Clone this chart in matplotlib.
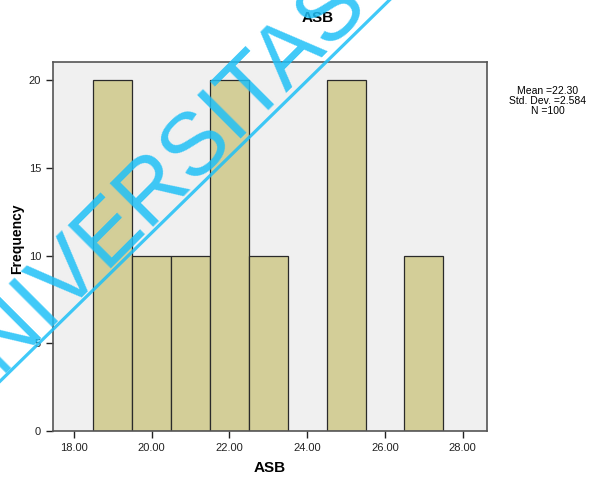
import numpy as np
import matplotlib
matplotlib.use("Agg")
import matplotlib.pyplot as plt
from matplotlib.lines import Line2D

plt.rcParams['font.family'] = ['Liberation Sans', 'DejaVu Sans']

# histogram bins (centres) and counts
bin_centers = [19, 20, 21, 22, 23, 25, 27]
counts = [20, 10, 10, 20, 10, 20, 10]
x_ticks = [18, 20, 22, 24, 26, 28]
y_ticks = [0, 5, 10, 15, 20]
stats_text = "Mean =22.30\nStd. Dev. =2.584\nN =100"

fig = plt.figure(figsize=(6.05, 4.8), dpi=100)
ax = fig.add_axes([0.0876, 0.102, 0.717, 0.769])
ax.set_facecolor('#f0f0f0')

ax.bar(bin_centers, counts, width=1.0, color='#d3ce98', edgecolor='#2a2a2a', linewidth=0.9)

ax.set_xlim(17.46, 28.62)
ax.set_ylim(0, 21.03)
ax.set_xticks(x_ticks)
ax.set_xticklabels([f'{v:.2f}' for v in x_ticks])
ax.set_yticks(y_ticks)
ax.tick_params(axis='both', direction='out', length=5, width=1, labelsize=8, colors='#222222')
for s in ax.spines.values():
    s.set_color('#555555')
    s.set_linewidth(1.2)

ax.set_xlabel('ASB', fontsize=11, fontweight='bold')
ax.xaxis.set_label_coords(0.5, -0.08)
ax.set_ylabel('Frequency', fontsize=10, fontweight='bold')
ax.yaxis.set_label_coords(-0.067, 0.52)
fig.text(0.525, 0.962, 'ASB', ha='center', va='center', fontsize=11, fontweight='bold')

fig.text(0.905, 0.79, stats_text, ha='center', va='center', fontsize=7.5, linespacing=1.0)

# watermark
wm_color = '#1ec0f7'
fig.add_artist(Line2D([-0.02, 0.66], [0.181, 1.02], transform=fig.transFigure,
                      color=wm_color, lw=2.3, alpha=0.85))
fig.text(-0.0754, 0.128, 'UNIVERSITAS', rotation=45, rotation_mode='anchor',
         ha='left', va='baseline', fontsize=64, color=wm_color, alpha=0.85)

fig.savefig('out.png', dpi=100)
